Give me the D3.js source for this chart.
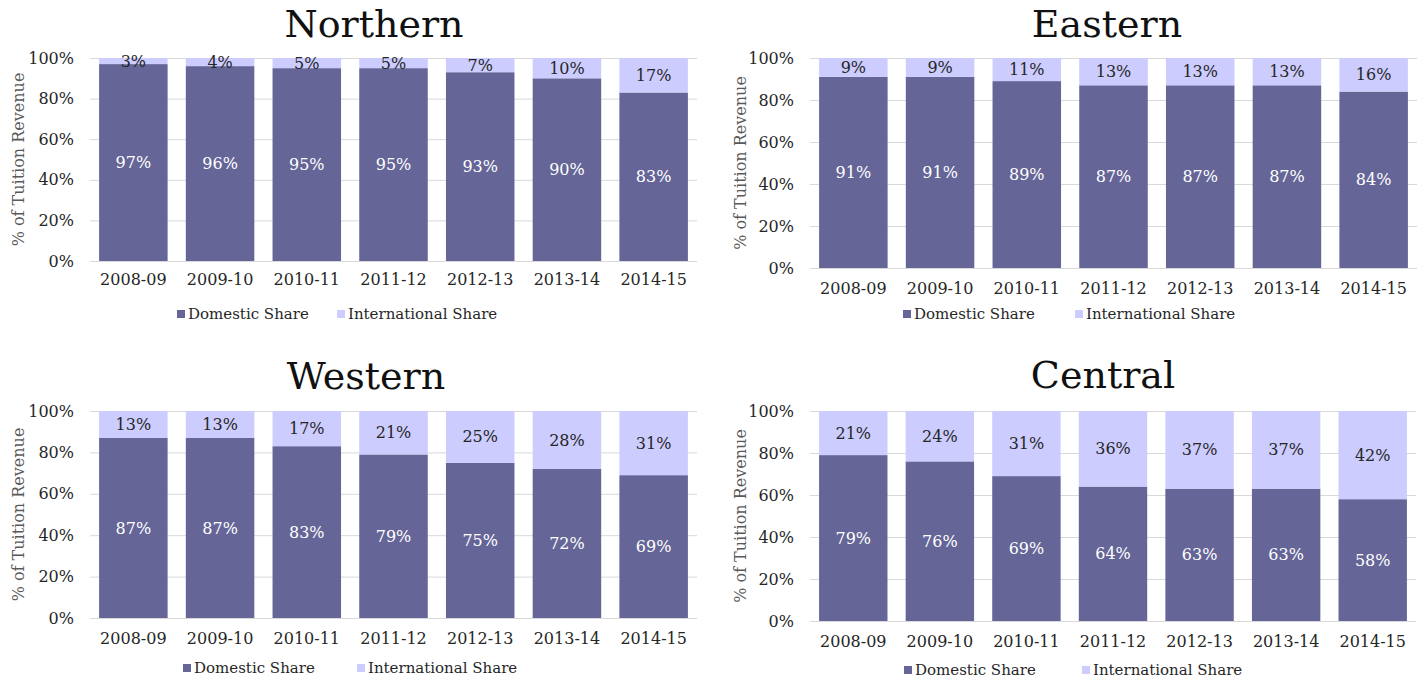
<!DOCTYPE html>
<html>
<head>
<meta charset="utf-8">
<script src="https://cdn.jsdelivr.net/npm/d3@7"></script>
<style>
    body { margin: 0; background: #fff; }
    svg { display: block; font-family: "DejaVu Serif", Georgia, serif; }
</style>
</head>
<body>
<svg width="1424" height="683"></svg>
<script>
var years = ["2008-09", "2009-10", "2010-11", "2011-12", "2012-13", "2013-14", "2014-15"]
var yTicks = [0, 20, 40, 60, 80, 100]
var seriesNames = ["Domestic Share", "International Share"]

var northernDomestic = [97, 96, 95, 95, 93, 90, 83]
var northernIntl = [3, 4, 5, 5, 7, 10, 17]
var easternDomestic = [91, 91, 89, 87, 87, 87, 84]
var easternIntl = [9, 9, 11, 13, 13, 13, 16]
var westernDomestic = [87, 87, 83, 79, 75, 72, 69]
var westernIntl = [13, 13, 17, 21, 25, 28, 31]
var centralDomestic = [79, 76, 69, 64, 63, 63, 58]
var centralIntl = [21, 24, 31, 36, 37, 37, 42]

var colDom = "#656597", colIntl = "#ccccff"

var svg = d3.select("svg")

var drawPanel = function (p) {
    var data = years.map((y, i) => ({ year: y, dom: p.dom[i], intl: p.intl[i] }))

    var scX = d3.scaleBand().domain(years)
        .range([p.x0, p.x1]).paddingInner(0.21).paddingOuter(0.105)
    var scY = d3.scaleLinear().domain([0, 100]).range([p.y0, p.y1])

    var g = svg.append("g")

    // title
    g.append("text").attr("x", p.tx).attr("y", p.ty)
        .attr("text-anchor", "middle").attr("font-size", 38).attr("fill", "#111")
        .text(p.title)

    // gridlines
    g.append("g").selectAll("line").data(yTicks).enter().append("line")
        .attr("x1", p.x0).attr("x2", p.x1)
        .attr("y1", d => scY(d) + 0.5).attr("y2", d => scY(d) + 0.5)
        .attr("stroke", "#d9d9d9").attr("stroke-width", 1)

    // y axis labels
    var ax = d3.axisLeft(scY).tickValues(yTicks).tickFormat(d => d + "%").tickSize(0).tickPadding(16)
    var gy = g.append("g").attr("transform", `translate(${p.x0}, 0)`).call(ax)
    gy.select(".domain").remove()
    gy.selectAll("text").attr("font-size", 16).attr("fill", "#262626")
        .attr("font-family", "DejaVu Serif")

    // x axis labels
    var gx = g.append("g").attr("transform", `translate(0, ${p.y0})`)
        .call(d3.axisBottom(scX).tickSize(0).tickPadding(p.xpad))
    gx.select(".domain").remove()
    gx.selectAll("text").attr("font-size", 16).attr("fill", "#262626")
        .attr("font-family", "DejaVu Serif")

    // y title
    g.append("text")
        .attr("transform", `translate(${p.yt}, ${(p.y0 + p.y1) / 2}) rotate(-90)`)
        .attr("text-anchor", "middle").attr("dy", "0.35em")
        .attr("font-size", 16).attr("fill", "#595959")
        .text("% of Tuition Revenue")

    // stacked bars
    var stack = d3.stack().keys(["dom", "intl"])(data)
    var cols = [colDom, colIntl]
    var txtCols = ["#ffffff", "#262626"]
    stack.forEach(function (layer, k) {
        var lg = g.append("g")
        lg.selectAll("rect").data(layer).enter().append("rect")
            .attr("x", d => scX(d.data.year))
            .attr("width", scX.bandwidth())
            .attr("y", d => scY(d[1]))
            .attr("height", d => scY(d[0]) - scY(d[1]))
            .attr("fill", cols[k])
        lg.selectAll("text").data(layer).enter().append("text")
            .attr("x", d => scX(d.data.year) + scX.bandwidth() / 2)
            .attr("y", d => scY((d[0] + d[1]) / 2))
            .attr("dy", "0.35em").attr("text-anchor", "middle")
            .attr("font-size", 16).attr("fill", txtCols[k])
            .text(d => Math.round(d[1] - d[0]) + "%")
    })

    // legend
    var lgd = g.append("g").selectAll("g").data(seriesNames).enter().append("g")
        .attr("transform", (d, i) => `translate(${p.lx[i]}, ${p.ly})`)
    lgd.append("rect").attr("x", 0).attr("y", -4).attr("width", 8).attr("height", 8)
        .attr("fill", (d, i) => cols[i])
    lgd.append("text").attr("x", 11).attr("dy", "0.35em")
        .attr("font-size", 15).attr("fill", "#262626")
        .text(d => d)
}

drawPanel({ title: "Northern", dom: northernDomestic, intl: northernIntl,
    x0: 90, x1: 697, y0: 261, y1: 58, tx: 374, ty: 37, xpad: 13, yt: 18, ly: 314, lx: [177, 337] })
drawPanel({ title: "Eastern", dom: easternDomestic, intl: easternIntl,
    x0: 810, x1: 1417, y0: 268, y1: 58, tx: 1107, ty: 37, xpad: 15, yt: 740, ly: 314, lx: [903, 1075] })
drawPanel({ title: "Western", dom: westernDomestic, intl: westernIntl,
    x0: 90, x1: 697, y0: 618, y1: 411, tx: 366, ty: 389, xpad: 15, yt: 18, ly: 668, lx: [183, 357] })
drawPanel({ title: "Central", dom: centralDomestic, intl: centralIntl,
    x0: 810, x1: 1416, y0: 621, y1: 411, tx: 1103, ty: 388, xpad: 15, yt: 740, ly: 670, lx: [904, 1082] })
</script>
</body>
</html>
